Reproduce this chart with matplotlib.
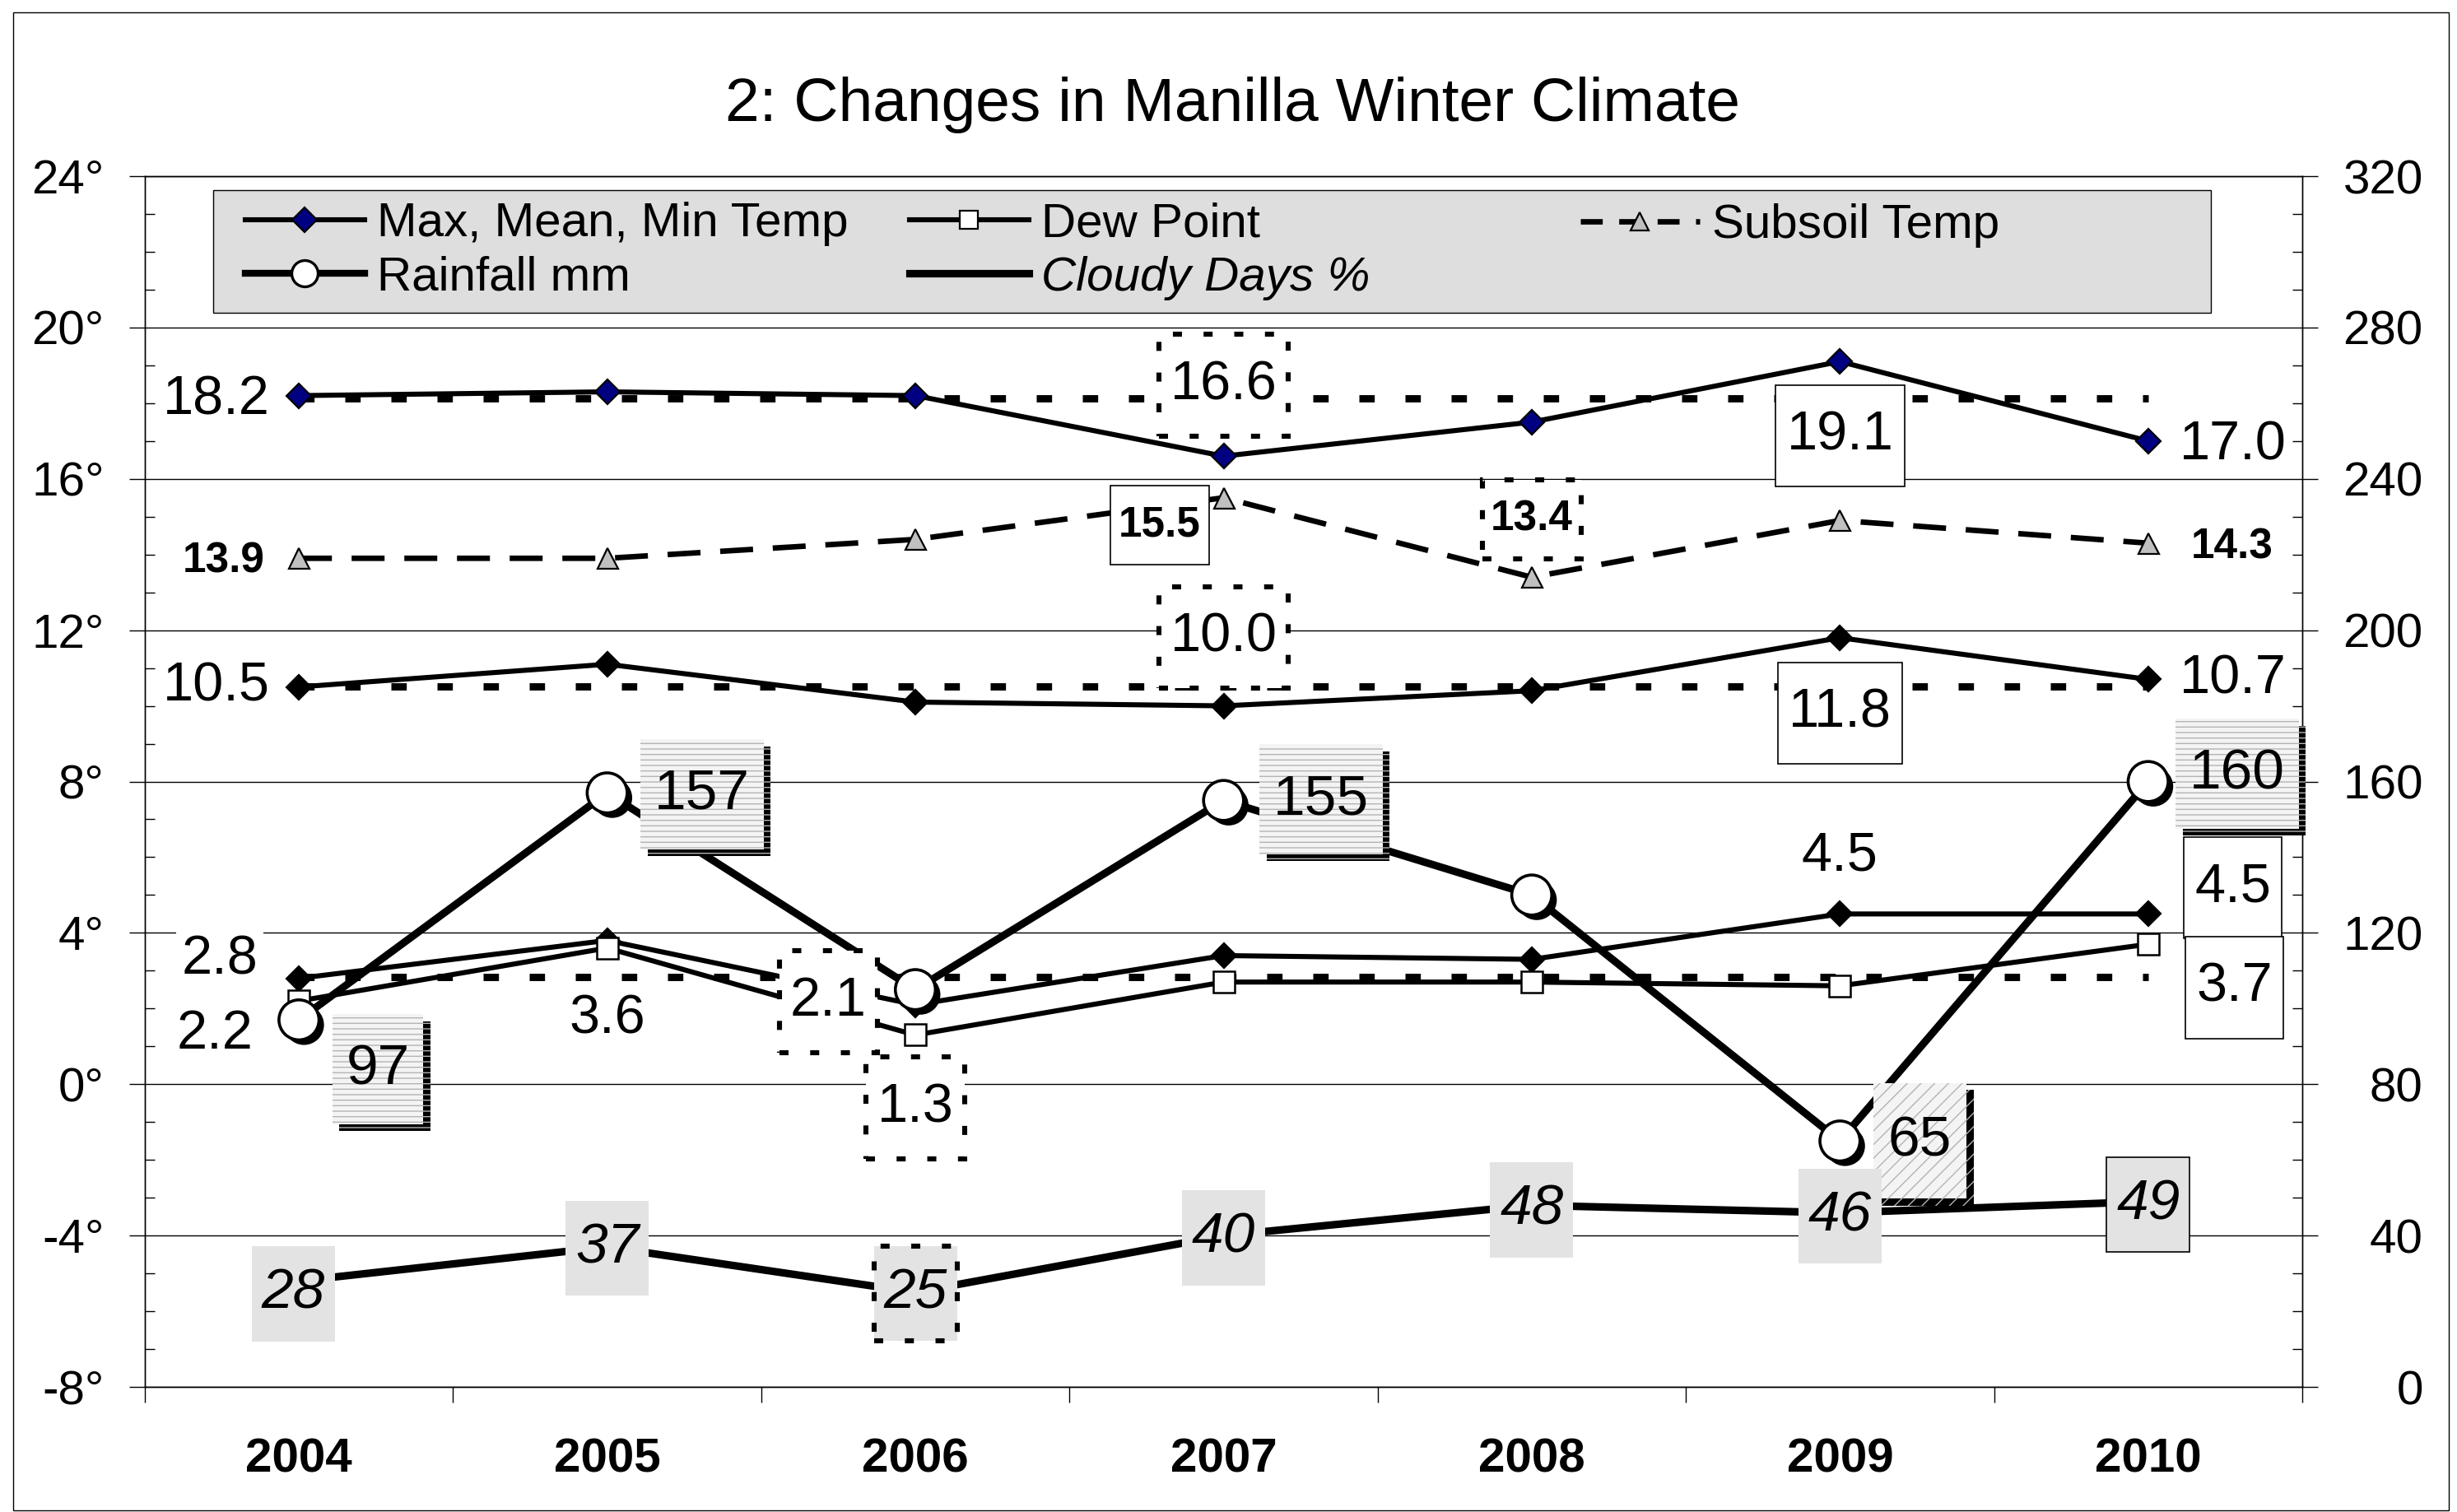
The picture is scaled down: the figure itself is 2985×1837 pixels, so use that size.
import numpy as np
import matplotlib
matplotlib.use("Agg")
import matplotlib.pyplot as plt
from matplotlib.lines import Line2D
from matplotlib.patches import Rectangle
from matplotlib.path import Path
from matplotlib.ticker import MultipleLocator, FuncFormatter, NullFormatter
import matplotlib.patheffects as pe

plt.rcParams['font.family'] = ['Liberation Sans', 'DejaVu Sans']
plt.rcParams['hatch.linewidth'] = 0.5

# ---------------- data ----------------
years = ['2004', '2005', '2006', '2007', '2008', '2009', '2010']
max_temp = [18.2, 18.3, 18.2, 16.6, 17.5, 19.1, 17.0]
mean_temp = [10.5, 11.1, 10.1, 10.0, 10.4, 11.8, 10.7]
min_temp = [2.8, 3.8, 2.1, 3.4, 3.3, 4.5, 4.5]
dew_point = [2.2, 3.6, 1.3, 2.7, 2.7, 2.6, 3.7]
subsoil_temp = [13.9, 13.9, 14.4, 15.5, 13.4, 14.9, 14.3]
rainfall_mm = [97, 157, 105, 155, 130, 65, 160]
cloudy_pct = [28, 37, 25, 40, 48, 46, 49]
long_term_avg = [18.12, 10.51, 2.84]   # max, mean, min long-term averages

title = "2: Changes in Manilla Winter Climate"
legend_labels = ["Max, Mean, Min Temp", "Rainfall mm", "Dew Point",
                 "Cloudy Days %", "Subsoil Temp"]


# ---------------- helpers ----------------
class PadBox:
    """Rectangular text box with separate x / y padding (fraction of font size)."""
    def __init__(self, px, py):
        self.px, self.py = px, py

    def __call__(self, x0, y0, width, height, mutation_size):
        px = self.px * mutation_size
        py = self.py * mutation_size
        verts = [(x0 - px, y0 - py), (x0 + width + px, y0 - py),
                 (x0 + width + px, y0 + height + py), (x0 - px, y0 + height + py),
                 (x0 - px, y0 - py)]
        return Path(verts, closed=True)


DOT = (0, (1.8, 4.3))


def box(kind):
    if kind == 'plain':
        return dict(boxstyle=PadBox(0.1, 0.12), fc='white', ec='none')
    if kind == 'solid':
        return dict(boxstyle=PadBox(0.2, 0.46), fc='white', ec='black', lw=0.6)
    if kind == 'dotted':
        return dict(boxstyle=PadBox(0.2, 0.46), fc='white', ec='black', lw=2.2, ls=DOT)
    if kind == 'rain':
        return dict(boxstyle=PadBox(0.24, 0.5), fc='#f4f4f4', ec='#b4b4b4', lw=0,
                    hatch='-----')
    if kind == 'rain_diag':
        return dict(boxstyle=PadBox(0.26, 0.55), fc='#f4f4f4', ec='#b4b4b4', lw=0,
                    hatch='////')
    if kind == 'cloud':
        return dict(boxstyle=PadBox(0.17, 0.37), fc='#e3e3e3', ec='none')
    if kind == 'cloud_dotted':
        return dict(boxstyle=PadBox(0.17, 0.37), fc='#e3e3e3', ec='black', lw=2.2, ls=DOT)
    if kind == 'cloud_solid':
        return dict(boxstyle=PadBox(0.17, 0.37), fc='#e3e3e3', ec='black', lw=0.6)


# ---------------- figure ----------------
fig = plt.figure(figsize=(14.925, 9.185), dpi=200)
ax1 = fig.add_axes([0.05896, 0.08274, 0.87806, 0.80076])
ax2 = ax1.twinx()
x = np.arange(len(years))

# long-term average dotted lines
for a in long_term_avg:
    ax1.plot([x[0], x[-1]], [a, a], color='black', lw=3.2, ls=(0, (2.1, 4.2)),
             dash_capstyle='butt', zorder=2)

temp_kw = dict(color='black', lw=2.2, marker='D', ms=7.8, mec='black', mew=0.8, zorder=3)
ax1.plot(x, max_temp, mfc='#000080', **temp_kw)
ax1.plot(x, mean_temp, mfc='black', **temp_kw)
ax1.plot(x, min_temp, mfc='black', **temp_kw)
ax1.plot(x, dew_point, color='black', lw=2.2, marker='s', ms=9.5, mfc='white',
         mec='black', mew=0.9, zorder=3)
ax1.plot(x, subsoil_temp, color='black', lw=2.4, ls=(0, (6.0, 3.6)), marker='^', ms=9,
         mfc='#c0c0c0', mec='black', mew=0.8, zorder=3)

# secondary axis series
ax2.plot(x, rainfall_mm, color='black', lw=3.3, zorder=3)
ax2.plot(x, rainfall_mm, ls='none', marker='o', ms=17.5, mfc='white', mec='black',
         mew=1.3, zorder=4,
         path_effects=[pe.SimplePatchShadow(offset=(2.2, -2.2), shadow_rgbFace='black',
                                            alpha=1.0), pe.Normal()])
ax2.plot(x, cloudy_pct, color='black', lw=3.3, zorder=3)

# ---------------- axes styling ----------------
ax1.set_xlim(-0.5, len(years) - 0.5)
ax1.set_ylim(-8, 24)
ax2.set_ylim(0, 320)

ax1.yaxis.set_major_locator(MultipleLocator(4))
ax1.yaxis.set_minor_locator(MultipleLocator(1))
ax1.yaxis.set_major_formatter(FuncFormatter(lambda v, p: f"{int(round(v))}\u00b0"))
ax2.yaxis.set_major_locator(MultipleLocator(40))
ax2.yaxis.set_minor_locator(MultipleLocator(10))
ax2.yaxis.set_major_formatter(FuncFormatter(lambda v, p: f"{int(round(v))}"))

ax1.set_xticks(np.arange(-0.5, len(years), 1.0))
ax1.xaxis.set_major_formatter(NullFormatter())
ax1.set_xticks(x, minor=True)
ax1.set_xticklabels(years, minor=True, fontweight='bold', fontsize=21)

ax1.tick_params(axis='y', which='major', direction='out', length=6.8, width=0.5,
                pad=11, labelsize=21)
ax1.tick_params(axis='y', which='minor', direction='in', length=4.3, width=0.5)
ax2.tick_params(axis='y', which='major', direction='out', length=6.8, width=0.5,
                pad=46, labelsize=21)
ax2.tick_params(axis='y', which='minor', direction='in', length=4.3, width=0.5)
ax1.tick_params(axis='x', which='major', direction='out', length=6.8, width=0.5)
ax1.tick_params(axis='x', which='minor', length=0, pad=22)
for t in ax2.get_yticklabels():
    t.set_horizontalalignment('right')

ax1.yaxis.grid(True, which='major', color='black', lw=0.5)
for ax in (ax1, ax2):
    for s in ax.spines.values():
        s.set_linewidth(0.5)

# ---------------- data labels ----------------
def put_label(src_ax, xi, val, text, dx, dy, kind, size=24, weight='normal',
              style='normal', shadow=False):
    t = ax2.annotate(text, xy=(xi, val), xycoords=src_ax.transData,
                     xytext=(dx, dy), textcoords='offset points', ha='center',
                     va='center', fontsize=size, fontweight=weight, fontstyle=style,
                     bbox=box(kind), zorder=10, annotation_clip=False)
    if shadow:
        t.get_bbox_patch().set_path_effects(
            [pe.SimplePatchShadow(offset=(3, -3), shadow_rgbFace='black', alpha=1.0),
             pe.Normal()])
    return t


temp_label_specs = [
    (max_temp, [(0, -36, -2, 'plain'), (3, 0, 31, 'dotted'), (5, 0, -32.4, 'solid'),
                (6, 37, -2, 'plain')]),
    (mean_temp, [(0, -36, 0, 'plain'), (3, 0, 30, 'dotted'), (5, 0, -33, 'solid'),
                 (6, 37, 0, 'plain')]),
    (min_temp, [(0, -34.8, 7.8, 'plain'), (2, -38, 1.3, 'dotted'), (5, 0, 25, 'plain'),
                (6, 37, 11.6, 'solid')]),
    (dew_point, [(0, -36.7, -14.8, 'plain'), (1, 0, -31.4, 'plain'),
                 (2, 0, -31.9, 'dotted'), (6, 37.8, -19, 'solid')]),
]
for series, specs in temp_label_specs:
    for i, dx, dy, kind in specs:
        put_label(ax1, x[i], series[i], f"{series[i]:.1f}", dx, dy, kind)

subsoil_specs = [(0, -32.8, -1.3, 'plain'), (3, -27.9, -11.9, 'solid'),
                 (4, 0, 25.3, 'dotted'), (6, 36.6, -1.7, 'plain')]
for i, dx, dy, kind in subsoil_specs:
    put_label(ax1, x[i], subsoil_temp[i], f"{subsoil_temp[i]:.1f}", dx, dy, kind,
              size=18.5, weight='bold')

rain_specs = [(0, 34.5, -21.6, 'rain'), (1, 41.5, -0.6, 'rain'), (3, 42.7, 0.5, 'rain'),
              (5, 35, 0, 'rain_diag'), (6, 39, 3.4, 'rain')]
for i, dx, dy, kind in rain_specs:
    put_label(ax2, x[i], rainfall_mm[i], f"{rainfall_mm[i]:.0f}", dx, dy, kind,
              size=25, shadow=True)

cloud_specs = [(0, -2.5, -5.6, 'cloud'), (1, 0, -0.5, 'cloud'), (2, 0, -0.4, 'cloud_dotted'),
               (3, 0, -1, 'cloud'), (4, 0, -2, 'cloud'), (5, 0, -1.4, 'cloud'),
               (6, 0, -1.4, 'cloud_solid')]
for i, dx, dy, kind in cloud_specs:
    put_label(ax2, x[i], cloudy_pct[i], f"{cloudy_pct[i]:.0f}", dx, dy, kind,
              size=25, style='italic')

# ---------------- legend ----------------
fig.add_artist(Rectangle((0.08677, 0.79314), 0.81307, 0.08111, transform=fig.transFigure,
                         facecolor='#dedede', edgecolor='black', lw=0.5, zorder=4))

h_temp = Line2D([], [], color='black', lw=2.2, marker='D', ms=7.8, mfc='#000080',
                mec='black', mew=0.8)
h_rain = Line2D([], [], color='black', lw=3.0, marker='o', ms=11.5, mfc='white',
                mec='black', mew=1.2)
h_dew = Line2D([], [], color='black', lw=2.2, marker='s', ms=8, mfc='white',
               mec='black', mew=0.8)
h_cloud = Line2D([], [], color='black', lw=3.3)
h_sub = Line2D([], [], color='black', lw=2.4, ls=(0, (4.0, 3.0)), marker='^', ms=8,
               mfc='#c0c0c0', mec='black', mew=0.8)

leg_kw = dict(fontsize=21, frameon=False, borderpad=0, borderaxespad=0,
              handlelength=2.48, handletextpad=0.26, labelspacing=0.2,
              loc='center left')
fig.legend([h_temp, h_rain], legend_labels[0:2], bbox_to_anchor=(0.09983, 0.83397), **leg_kw)
leg2 = fig.legend([h_dew, h_cloud], legend_labels[2:4], bbox_to_anchor=(0.3702, 0.83397),
                  **leg_kw)
leg2.get_texts()[1].set_fontstyle('italic')
fig.legend([h_sub], legend_labels[4:5], bbox_to_anchor=(0.6432, 0.85084), **leg_kw)

# ---------------- title & border ----------------
fig.text(0.5018, 0.92, title, ha='center', va='baseline', fontsize=27)
fig.add_artist(Rectangle((0.00536, 0.00109), 0.9913, 0.99074, transform=fig.transFigure,
                         fill=False, edgecolor='black', lw=0.5))

fig.savefig('out.png', dpi=200)
